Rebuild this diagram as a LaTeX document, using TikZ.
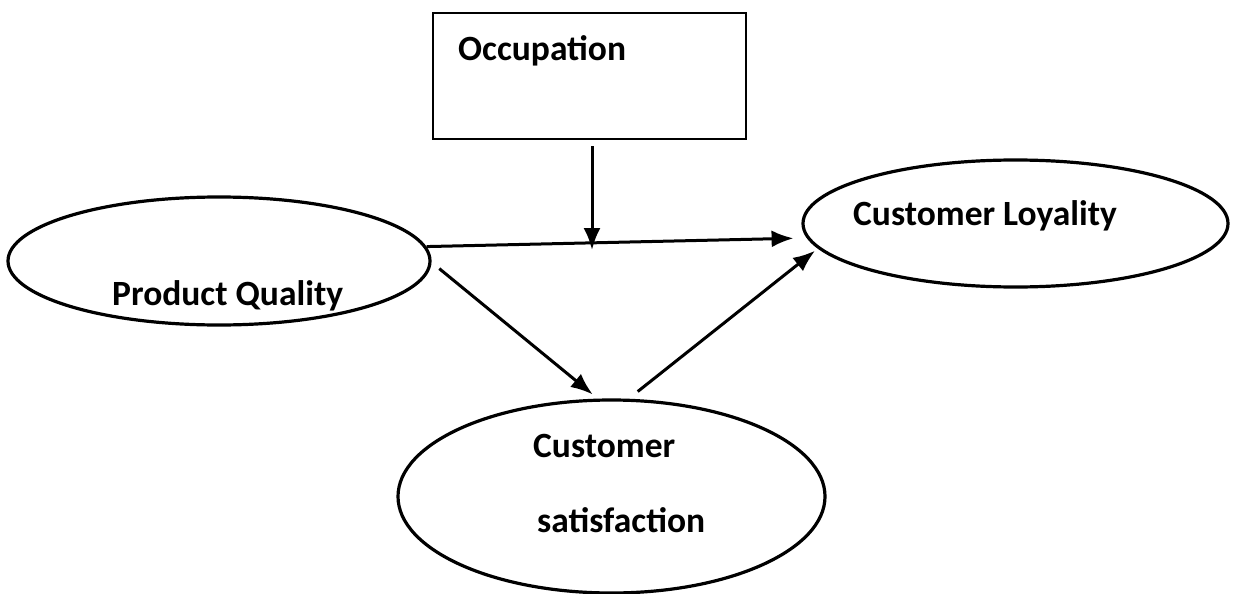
\documentclass[tikz,border=0pt]{standalone}
\usepackage{fontspec}
\setmainfont{Carlito}
\usetikzlibrary{shapes.geometric,arrows.meta}
\begin{document}
\begin{tikzpicture}[x=1pt,y=-1pt,
  oval/.style={ellipse,draw,line width=3.2pt,inner sep=0pt,outer sep=0pt},
  box/.style={rectangle,draw,line width=2.2pt,inner sep=0pt,outer sep=0pt},
  lbl/.style={anchor=base west,inner sep=0pt,font=\fontsize{35.5}{40}\selectfont\bfseries},
  arr/.style={line width=3pt,-{Latex[length=22pt,width=17pt]}}]
\useasboundingbox (0,0) rectangle (1234,594);
\node[oval,minimum width=422pt,minimum height=128pt] (pq) at (219,261) {};
\node[oval,minimum width=425pt,minimum height=127pt] (cl) at (1015.5,223.5) {};
\node[oval,minimum width=427pt,minimum height=193pt] (cs) at (611.5,496.5) {};
\node[box,minimum width=313pt,minimum height=126pt] (occ) at (589.5,76) {};
\node[lbl] (tpq) at (112,305) {Product Quality};
\node[lbl] (tocc) at (458,60) {Occupation};
\node[lbl] (tcl) at (853,225) {Customer Loyality};
\node[lbl] (tcs1) at (533,457) {Customer};
\node[lbl] (tcs2) at (537,532) {satisfaction};
\coordinate (m) at (592,250);
\draw[arr,shorten <=2pt,shorten >=15pt] (pq.4) -- (cl.184.8);
\draw[arr,shorten <=7pt] (occ.south -| m) -- (m);
\draw[arr,shorten <=12pt,shorten >=9pt] (pq.east) -- (cs.97);
\draw[arr,shorten <=14pt,shorten >=5pt] (cs.81) -- (cl.187.5);
\end{tikzpicture}
\end{document}
